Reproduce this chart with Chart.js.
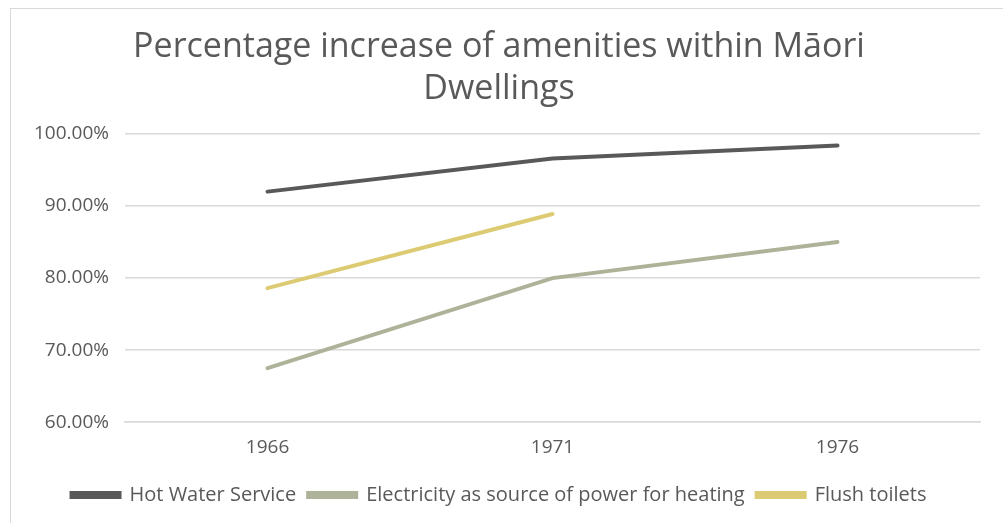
<!DOCTYPE html>
<html lang="en">
  <head>
    <meta charset="UTF-8" />
    <title>Amenities within Māori Dwellings</title>
    <script src="https://cdn.jsdelivr.net/npm/chart.js"></script>
    <style>
      body {
        margin: 0;
        background: #ffffff;
        overflow: hidden;
      }
      .frame {
        position: absolute;
        left: 10px;
        top: 8px;
        width: 1010px;
        height: 540px;
        border: 1px solid #d9d9d9;
        box-sizing: border-box;
      }
      .wrap {
        position: absolute;
        left: 0;
        top: 0;
        width: 1003px;
        height: 523px;
      }
    </style>
  </head>
  <body>
    <div class="frame"></div>
    <div class="wrap"><canvas id="amenitiesChart"></canvas></div>

    <script>
      const years = ["1966", "1971", "1976"];
      const hotWater = [0.92, 0.966, 0.984];
      const electricity = [0.675, 0.80, 0.85];
      const flushToilets = [0.786, 0.889, null];

      const fontFamily = "'Open Sans', sans-serif";
      const textColor = "#595959";

      function series(label, data, color) {
        return {
          label: label,
          data: data,
          borderColor: color,
          backgroundColor: color,
          borderWidth: 4,
          borderCapStyle: "round",
          pointRadius: 0,
          pointHoverRadius: 0,
          tension: 0,
          spanGaps: false,
        };
      }

      const ctx = document.getElementById("amenitiesChart").getContext("2d");
      new Chart(ctx, {
        type: "line",
        data: {
          labels: years,
          datasets: [
            series("Hot Water Service", hotWater, "#595959"),
            series("Electricity as source of power for heating", electricity, "#adb398"),
            series("Flush toilets", flushToilets, "#dccb72"),
          ],
        },
        options: {
          responsive: true,
          maintainAspectRatio: false,
          animation: false,
          layout: {
            padding: { left: 18, right: 23, top: 26, bottom: 8 },
          },
          plugins: {
            title: {
              display: true,
              text: ["Percentage increase of amenities within Māori", "Dwellings"],
              color: textColor,
              font: { family: fontFamily, size: 34, weight: "normal", lineHeight: 1.235 },
              padding: { top: 0, bottom: 24 },
            },
            legend: {
              position: "bottom",
              labels: {
                color: textColor,
                font: { family: fontFamily, size: 20 },
                boxWidth: 48,
                boxHeight: 4,
                padding: 12,
              },
            },
            tooltip: { enabled: false },
          },
          scales: {
            x: {
              offset: true,
              grid: { display: false, drawTicks: false },
              border: { color: "#d9d9d9", width: 1.5 },
              ticks: {
                color: textColor,
                font: { family: fontFamily, size: 19 },
                padding: 14,
              },
            },
            y: {
              min: 0.6,
              max: 1.0,
              grid: { color: "#d9d9d9", lineWidth: 1.5, drawTicks: false },
              border: { display: false },
              ticks: {
                stepSize: 0.1,
                color: textColor,
                font: { family: fontFamily, size: 19 },
                padding: 16,
                callback: (v) => (v * 100).toFixed(2) + "%",
              },
            },
          },
        },
      });
    </script>
  </body>
</html>
